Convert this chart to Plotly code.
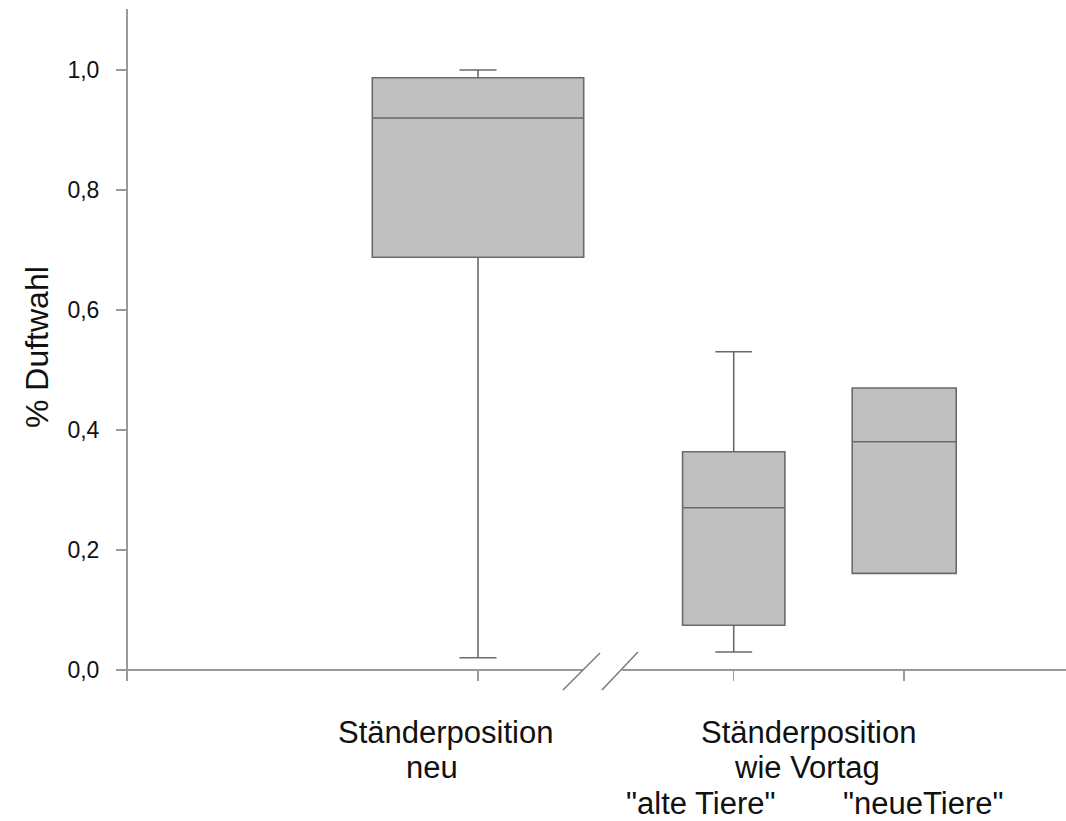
import plotly.graph_objects as go

# ---- data ----
positions = [0.0, 1.5, 2.5]
lower_fence = [0.0205, 0.030, 0.161]
q1_vals = [0.688, 0.0745, 0.161]
medians = [0.920, 0.2705, 0.3805]
q3_vals = [0.987, 0.3638, 0.470]
upper_fence = [1.000, 0.5305, 0.470]
box_widths = [1.24, 0.60, 0.61]
whisker_widths = [0.175, 0.36, 0.0]

y_tickvals = [0.0, 0.2, 0.4, 0.6, 0.8, 1.0]
y_title = "% Duftwahl"
label_lines = [
    ("Ständerposition", -0.188, -0.0759),
    ("neu", -0.270, -0.128),
    ("Ständerposition", 1.941, -0.0759),
    ("wie Vortag", 1.930, -0.128),
    ("\"alte Tiere\"", 1.308, -0.183),
    ("\"neueTiere\"", 2.610, -0.183),
]

FONT = "Liberation Sans, Arial, Helvetica, sans-serif"
AXIS_COLOR = "#9a9a9a"
BOX_LINE = "#6a6a6a"
BOX_FILL = "#c0c0c0"

ymin, ymax = -0.0183, 1.1017
xmin, xmax = -2.053, 3.449

fig = go.Figure()
for i in range(len(positions)):
    fig.add_trace(go.Box(
        x=[positions[i]],
        q1=[q1_vals[i]], median=[medians[i]], q3=[q3_vals[i]],
        lowerfence=[lower_fence[i]], upperfence=[upper_fence[i]],
        width=box_widths[i], whiskerwidth=whisker_widths[i],
        fillcolor=BOX_FILL, line=dict(color=BOX_LINE, width=1.6),
        boxpoints=False, showlegend=False, hoverinfo="skip",
    ))

# axis break: hide gap and draw two slashes (y in paper units so they are not clipped)
gap_l, gap_r = 0.616, 0.845
fig.add_shape(type="rect", xref="x", yref="y", x0=gap_l, x1=gap_r,
              y0=-0.006, y1=0.006, fillcolor="white", line=dict(width=0), layer="above")
for (xa, ya, xb, yb) in [(0.4985, -0.0134, 0.7155, 0.0417), (0.727, -0.0134, 0.938, 0.0432)]:
    fig.add_shape(type="line", xref="x", yref="paper", x0=xa, y0=ya, x1=xb, y1=yb,
                  line=dict(color="#7a7a7a", width=1.5), layer="above")

for text, x, y in label_lines:
    fig.add_annotation(text=text, x=x, y=y, xref="x", yref="paper",
                       xanchor="center", yanchor="middle", showarrow=False,
                       font=dict(family=FONT, size=31, color="#111111"))

fig.add_annotation(text=y_title, x=-0.097, y=0.497, xref="paper", yref="paper",
                   textangle=-90, xanchor="center", yanchor="middle", showarrow=False,
                   font=dict(family=FONT, size=32, color="#111111"))

fig.update_layout(
    width=1066, height=821,
    margin=dict(l=128, r=0, t=9, b=140),
    paper_bgcolor="white", plot_bgcolor="white",
    separators=",.",
    font=dict(family=FONT, color="#111111"),
    xaxis=dict(range=[xmin, xmax], tickvals=positions, showticklabels=False,
               ticks="outside", ticklen=10, tickwidth=1.5, tickcolor=AXIS_COLOR,
               showline=True, linecolor=AXIS_COLOR, linewidth=2,
               showgrid=False, zeroline=False,
               anchor="free", position=(0 - ymin) / (ymax - ymin)),
    yaxis=dict(range=[ymin, ymax], tickvals=y_tickvals, tickformat=".1f",
               ticks="outside", ticklen=10, tickwidth=1.5, tickcolor=AXIS_COLOR,
               showline=True, linecolor=AXIS_COLOR, linewidth=2,
               showgrid=False, zeroline=False, ticklabelstandoff=12,
               tickfont=dict(family=FONT, size=23, color="#111111")),
)

fig.write_html("out.html",
               config={"displayModeBar": False, "staticPlot": True},
               post_script="document.body.style.margin='0';document.body.style.padding='0';document.body.style.overflow='hidden';")
